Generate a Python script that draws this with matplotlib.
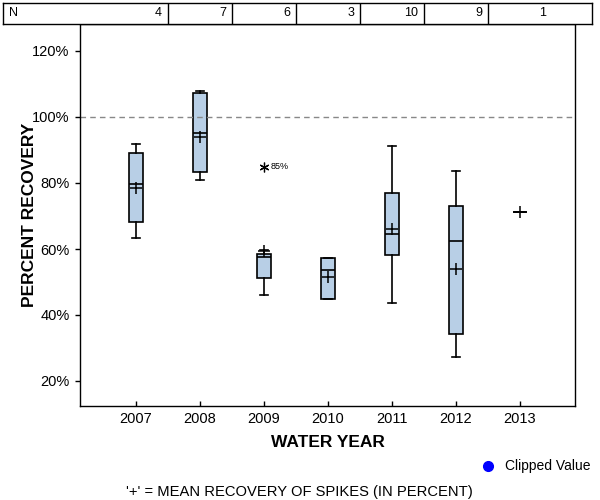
import matplotlib
matplotlib.use("Agg")
import matplotlib.pyplot as plt
from matplotlib.lines import Line2D

plt.rcParams['font.family'] = ['Liberation Sans', 'DejaVu Sans']

years = ['2007', '2008', '2009', '2010', '2011', '2012', '2013']
n_counts = [4, 7, 6, 3, 10, 9, 1]
whislo = [63.2, 80.9, 46.0, 44.8, 43.5, 27.2, 71.1]
q1 = [68.1, 83.2, 51.1, 44.8, 58.1, 34.2, 71.1]
med = [79.8, 95.1, 57.7, 53.6, 64.6, 62.4, 71.1]
q3 = [89.0, 107.2, 58.6, 57.2, 76.9, 73.1, 71.1]
whishi = [91.7, 108.0, 59.7, 57.2, 91.1, 83.5, 71.1]
means = [78.4, 94.0, 59.4, 51.6, 66.2, 53.8, 71.1]
outlier_year = ['2009']
outlier_val = [84.9]
outlier_label = ['85%']
yticks = [20, 40, 60, 80, 100, 120]

W, H = 600, 500
fig = plt.figure(figsize=(6, 5), dpi=100)

def px2x(px):
    return 1 + (px - 136) / 64.0

ax = fig.add_axes([80 / W, 1 - 406 / H, 495 / W, 382 / H])
box_fill = '#b8cfe6'

stats = []
for i in range(len(years)):
    stats.append(dict(label=years[i], whislo=whislo[i], q1=q1[i], med=med[i],
                      q3=q3[i], whishi=whishi[i], mean=means[i], fliers=[]))
positions = list(range(1, len(years) + 1))
ax.bxp(stats, positions=positions, widths=0.234, patch_artist=True,
       showmeans=True, showfliers=False, capwidths=0.13,
       boxprops=dict(facecolor=box_fill, edgecolor='black', linewidth=1.2),
       medianprops=dict(color='black', linewidth=1.2),
       whiskerprops=dict(color='black', linewidth=1.2),
       capprops=dict(color='black', linewidth=1.2),
       meanprops=dict(marker='+', markeredgecolor='black', markersize=9,
                      markeredgewidth=1.1))

for yr, v, lab in zip(outlier_year, outlier_val, outlier_label):
    xp = years.index(yr) + 1
    ax.plot([xp], [v], marker=(6, 2, 0), color='black', markersize=7,
            markeredgewidth=0.9, linestyle='none')
    ax.text(xp + 0.11, v, lab, fontsize=6.5, va='center', ha='left')

ax.axhline(100, color='#888888', linestyle=(0, (4, 3)), linewidth=1)

ax.set_xlim(px2x(80), px2x(575))
ax.set_ylim(100 - (406 - 117) / 3.3, 100 + (117 - 24) / 3.3)
ax.set_yticks(yticks)
ax.set_yticklabels([f'{t}%' for t in yticks], fontsize=10.5)
ax.set_xticks(positions)
ax.set_xticklabels(years, fontsize=10.5)
ax.tick_params(axis='x', direction='in', length=3.6, width=1, colors='black', pad=4)
ax.tick_params(axis='y', direction='out', length=3.6, width=1, colors='black', pad=4)
for s in ax.spines.values():
    s.set_linewidth(1)
ax.set_xlabel('WATER YEAR', fontsize=12.5, fontweight='bold')
ax.set_ylabel('PERCENT RECOVERY', fontsize=12.5, fontweight='bold')
ax.xaxis.set_label_coords(0.5, -(435 - 406) / 382)
ax.yaxis.set_label_coords(-(80 - 37) / 495, 0.5)

# N table
tax = fig.add_axes([3 / W, 1 - 24 / H, 589 / W, 21 / H])
tax.set_xlim(px2x(3), px2x(592))
tax.set_ylim(0, 1)
tax.set_xticks([])
tax.set_yticks([])
for s in tax.spines.values():
    s.set_linewidth(1)
for i in range(1, len(years)):
    tax.axvline(i + 0.5, color='black', linewidth=1)
tax.text(px2x(9), 0.5, 'N', fontsize=9, va='center', ha='left')
for i, n in enumerate(n_counts):
    tax.text(i + 1.5 - 6 / 64, 0.5, str(n), fontsize=9, va='center', ha='right')

# Legend and footer
fig.add_artist(Line2D([488 / W], [1 - 466 / H], marker='o', color='blue',
                      markersize=7, linestyle='none'))
fig.text(505 / W, 1 - 466 / H, 'Clipped Value', fontsize=10, va='center', ha='left')
fig.text(299 / W, 1 - 492 / H, "'+' = MEAN RECOVERY OF SPIKES (IN PERCENT)",
         fontsize=10.6, va='center', ha='center')

fig.savefig('out.png', dpi=100)
